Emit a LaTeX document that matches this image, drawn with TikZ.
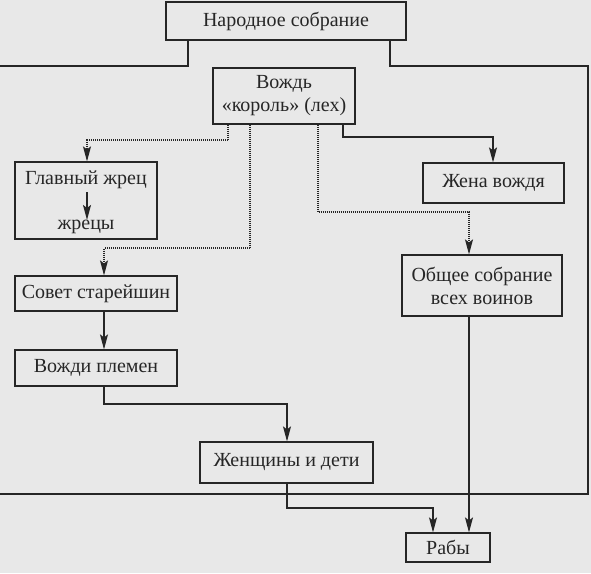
\documentclass[tikz,border=0pt]{standalone}
\usepackage{fontspec}
\setmainfont{Liberation Serif}
\usetikzlibrary{arrows.meta}
\definecolor{paper}{RGB}{232,232,232}
\definecolor{ink}{RGB}{38,38,38}
\tikzset{
  box/.style={draw=ink, line width=1.2pt, fill=paper, inner sep=0pt, align=center,
    font=\fontsize{20}{23}\selectfont, text=ink},
  lbl/.style={text=ink, inner sep=0pt, font=\fontsize{20}{23}\selectfont},
  link/.style={draw=ink, line width=1.2pt},
  dotlink/.style={draw=ink, line width=1.2pt, dash pattern=on 0.9pt off 1.1pt},
  arr/.style={-{Stealth[length=15pt,width=8pt,inset=3pt]}},
}
\begin{document}
\begin{tikzpicture}[x=1pt,y=-1pt]
\fill[paper] (0,0) rectangle (591,573);
\useasboundingbox (0,0) rectangle (591,573);
% boxes
\node[box, minimum width=240pt, minimum height=38pt] (nar) at (286,21) {Народное собрание};
\node[box, minimum width=142pt, minimum height=56pt] (vozhd) at (284,96) {Вождь\\«король» (лех)};
\node[box, minimum width=142pt, minimum height=77pt] (glav) at (86,200.5) {};
\node[lbl] (glavt) at (86,180) {Главный жрец};
\node[lbl] (zhrec) at (86,227) {жрецы};
\node[box, minimum width=141pt, minimum height=40pt] (zhena) at (493.5,183) {Жена вождя};
\node[box, minimum width=160pt, minimum height=61pt] (obsh) at (482,285.5) {Общее собрание\\всех воинов};
\node[box, minimum width=162pt, minimum height=35pt] (sovet) at (96,293.5) {Совет старейшин};
\node[box, minimum width=162pt, minimum height=36pt] (vozhdi) at (96,368) {Вожди племен};
\node[box, minimum width=173pt, minimum height=41pt] (zhen) at (286.5,462.5) {Женщины и дети};
\node[box, minimum width=84pt, minimum height=29pt] (raby) at (448,547.5) {Рабы};
% frame coordinates
\coordinate (fl) at (0,66);
\coordinate (fr) at (588,66);
\coordinate (fbr) at (588,494);
\coordinate (fbl) at (0,494);
% frame from the assembly
\draw[link] (nar.south -| 188,0) |- (fl);
\draw[link] (nar.south -| 390,0) |- (fr) -- (fbr) -- (fbl);
% chief to wife
\draw[link, arr] (vozhd.south -| 343,0) |- (493,137) -- (zhena.north -| 493,0);
% dotted links
\draw[dotlink, arr] (vozhd.south -| 228,0) |- (87,140) -- (glav.north -| 87,0);
\draw[dotlink, arr] (vozhd.south -| 250,0) |- (104,248) -- (sovet.north -| 104,0);
\draw[dotlink, arr] (vozhd.south -| 318,0) |- (469,212) -- (obsh.north -| 469,0);
% inside the priest box
\draw[link, arr] (glavt.south -| 87,0) ++(0,3) -- (zhrec.north -| 87,0);
% council to chiefs
\draw[link, arr] (sovet.south -| 104,0) -- (vozhdi.north -| 104,0);
% chiefs to women
\draw[link, arr] (vozhdi.south -| 104,0) |- (287,404) -- (zhen.north -| 287,0);
% women to slaves
\draw[link, arr] (zhen.south -| 287,0) |- (433,508) -- (raby.north -| 433,0);
% warriors to slaves
\draw[link, arr] (obsh.south -| 469,0) -- (raby.north -| 469,0);
\end{tikzpicture}
\end{document}
